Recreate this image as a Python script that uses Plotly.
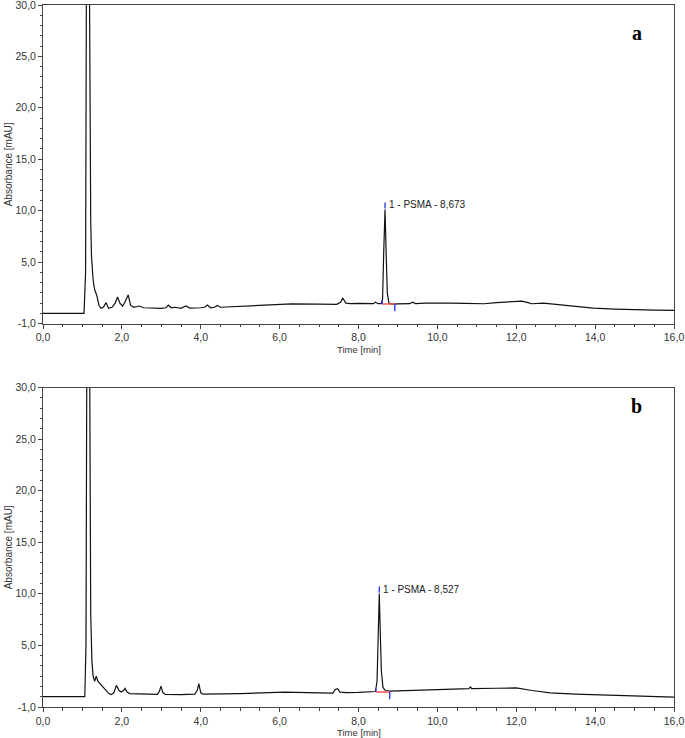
import plotly.graph_objects as go

# ---------- data ----------
time_a = [0.0, 1.04, 1.08, 1.11, 1.16, 1.19, 1.21, 1.23, 1.27, 1.31, 1.36, 1.42, 1.47, 1.53,
          1.60, 1.66, 1.75, 1.83, 1.89, 1.95, 2.02, 2.09, 2.16, 2.22, 2.30, 2.44, 2.55, 3.00,
          3.12, 3.18, 3.25, 3.35, 3.50, 3.62, 3.72, 4.00, 4.10, 4.17, 4.25, 4.35, 4.42, 4.50,
          5.00, 6.00, 6.30, 7.00, 7.45, 7.55, 7.60, 7.68, 7.80, 8.00, 8.20, 8.38, 8.43, 8.50,
          8.58, 8.61, 8.64, 8.673, 8.70, 8.73, 8.77, 8.85, 9.00, 9.30, 9.37, 9.45, 9.70, 10.00,
          10.34, 10.70, 11.18, 11.50, 11.76, 12.14, 12.30, 12.39, 12.69, 13.00, 13.27, 13.60,
          13.95, 14.50, 14.95, 15.50, 16.0]
abs_a = [0.0, 0.0, 4.0, 45.0, 45.0, 20.0, 9.0, 5.5, 3.3, 2.3, 1.8, 0.8, 0.5, 0.6,
         1.05, 0.5, 0.6, 1.0, 1.6, 1.0, 0.7, 1.2, 1.8, 0.8, 0.6, 0.72, 0.55, 0.5,
         0.55, 0.8, 0.55, 0.6, 0.5, 0.72, 0.52, 0.55, 0.6, 0.82, 0.55, 0.6, 0.78, 0.6,
         0.7, 0.88, 0.93, 0.9, 0.88, 1.1, 1.5, 1.0, 0.95, 0.97, 0.97, 0.95, 1.1, 0.95,
         0.95, 1.4, 6.0, 10.1, 6.0, 2.0, 1.0, 0.9, 0.92, 0.95, 1.1, 0.95, 1.0, 1.02,
         1.0, 0.97, 0.94, 1.05, 1.13, 1.2, 1.05, 0.94, 1.0, 0.88, 0.75, 0.62,
         0.52, 0.42, 0.36, 0.32, 0.3]

time_b = [0.0, 1.06, 1.09, 1.12, 1.17, 1.19, 1.21, 1.24, 1.27, 1.31, 1.35, 1.39, 1.44, 1.52,
          1.60, 1.67, 1.73, 1.80, 1.86, 1.93, 1.98, 2.04, 2.08, 2.13, 2.20, 2.50, 2.90, 2.95,
          2.99, 3.04, 3.10, 3.50, 3.85, 3.91, 3.95, 4.00, 4.05, 5.00, 6.14, 7.00, 7.35, 7.41,
          7.47, 7.53, 7.70, 8.00, 8.30, 8.43, 8.47, 8.50, 8.527, 8.55, 8.58, 8.62, 8.68, 8.80,
          9.50, 10.00, 10.80, 10.84, 10.87, 11.50, 12.00, 12.40, 12.86, 13.50, 14.37, 15.20, 16.0]
abs_b = [0.0, 0.0, 5.0, 45.0, 45.0, 25.0, 8.0, 3.5, 2.0, 1.5, 2.0, 1.5, 1.3, 1.0,
         0.6, 0.3, 0.2, 0.4, 1.1, 0.6, 0.45, 0.6, 0.8, 0.45, 0.3, 0.25, 0.22, 0.5,
         1.03, 0.4, 0.22, 0.2, 0.25, 0.6, 1.26, 0.4, 0.25, 0.3, 0.45, 0.38, 0.35, 0.7,
         0.78, 0.45, 0.4, 0.42, 0.45, 0.5, 1.5, 6.0, 10.0, 6.5, 2.5, 0.9, 0.6, 0.55,
         0.62, 0.7, 0.78, 0.95, 0.78, 0.82, 0.85, 0.6, 0.38, 0.25, 0.13, 0.05, -0.05]

# integration marks: start, apex, end of the PSMA peak
peak_label = ["1 - PSMA - 8,673", "1 - PSMA - 8,527"]
peak_start = [8.60, 8.44]
peak_apex = [8.673, 8.527]
peak_end = [8.92, 8.79]
peak_base = [0.92, 0.45]
apex_top = [10.2, 10.1]

panel_tags = ["a", "b"]
tag_y = [27.3, 28.2]

x_ticks = [0, 2, 4, 6, 8, 10, 12, 14, 16]
y_ticks = [-1, 5, 10, 15, 20, 25, 30]
y_ticktext = ["-1,0", "5,0", "10,0", "15,0", "20,0", "25,0", "30,0"]

# ---------- figure ----------
AX = "#444444"
FONT = "Liberation Sans, Arial"
fig = go.Figure()

series = [(time_a, abs_a), (time_b, abs_b)]
for i, (t, a) in enumerate(series):
    xa = "x" if i == 0 else "x2"
    ya = "y" if i == 0 else "y2"
    fig.add_trace(go.Scatter(x=t, y=a, mode="lines", xaxis=xa, yaxis=ya,
                             line=dict(color="#111111", width=1.2), showlegend=False,
                             hoverinfo="skip"))
    # red baseline
    fig.add_trace(go.Scatter(x=[peak_start[i], peak_end[i]], y=[peak_base[i], peak_base[i]],
                             mode="lines", xaxis=xa, yaxis=ya, showlegend=False,
                             line=dict(color="#ff5555", width=1.5)))
    # blue delimiters
    fig.add_trace(go.Scatter(
        x=[peak_start[i], peak_start[i], None, peak_apex[i], peak_apex[i], None, peak_end[i], peak_end[i]],
        y=[peak_base[i], peak_base[i] + 0.35, None, apex_top[i], apex_top[i] + 0.6, None,
           peak_base[i], peak_base[i] - 0.7],
        mode="lines", xaxis=xa, yaxis=ya, showlegend=False,
        line=dict(color="#2233ee", width=1.3)))
    fig.add_annotation(x=peak_apex[i], y=apex_top[i] + 0.35, xref=xa, yref=ya,
                       text=peak_label[i], showarrow=False, xanchor="left", xshift=2,
                       font=dict(family=FONT, size=10, color="#222222"))
    fig.add_annotation(x=0.953, y=tag_y[i], xref=f"{xa} domain", yref=ya,
                       text=f"<b>{panel_tags[i]}</b>", showarrow=False,
                       font=dict(family="Liberation Serif, Times New Roman", size=20, color="black"))
    # axis titles as annotations (fixed pixel offsets)
    fig.add_annotation(x=0.5, y=0, xref=f"{xa} domain", yref=f"{ya} domain",
                       text="Time [min]", showarrow=False, yanchor="top", yshift=-18,
                       font=dict(family=FONT, size=9.5, color="#333333"))
    fig.add_annotation(x=0, y=0.5, xref=f"{xa} domain", yref=f"{ya} domain",
                       text="Absorbance [mAU]", showarrow=False, textangle=-90,
                       xanchor="center", xshift=-35,
                       font=dict(family=FONT, size=10, color="#333333"))

xaxis_style = dict(
    range=[0, 16], tickvals=x_ticks, tickformat=".1f", ticks="outside", ticklen=4,
    tickcolor=AX, showline=True, linecolor=AX, linewidth=1, mirror=True,
    showgrid=False, zeroline=False, automargin=False, ticklabeloverflow="allow",
    minor=dict(tickmode="linear", tick0=0, dtick=0.5, ticks="outside", ticklen=2.5, tickcolor=AX),
    tickfont=dict(family=FONT, size=10.5, color="#333333"),
)
yaxis_style = dict(
    range=[-1, 30], tickvals=y_ticks, ticktext=y_ticktext, ticks="outside", ticklen=4,
    tickcolor=AX, showline=True, linecolor=AX, linewidth=1, mirror=True,
    showgrid=False, zeroline=False, automargin=False, ticklabeloverflow="allow",
    minor=dict(tickmode="linear", tick0=0, dtick=1, ticks="outside", ticklen=2.5, tickcolor=AX),
    tickfont=dict(family=FONT, size=10.5, color="#333333"),
)

fig.update_layout(
    width=685, height=738,
    margin=dict(l=43, r=11, t=5, b=31),
    paper_bgcolor="white", plot_bgcolor="white",
    separators=",.",
    xaxis=dict(xaxis_style, anchor="y"),
    yaxis=dict(yaxis_style, domain=[0.546, 1.0], anchor="x"),
    xaxis2=dict(xaxis_style, anchor="y2"),
    yaxis2=dict(yaxis_style, domain=[0.0, 0.455], anchor="x2"),
)

# the page body has a default 8px margin; drop it so the figure sits at the window corner
fig.write_html("out.html", config={"displayModeBar": False},
               post_script="document.body.style.margin='0px';")
